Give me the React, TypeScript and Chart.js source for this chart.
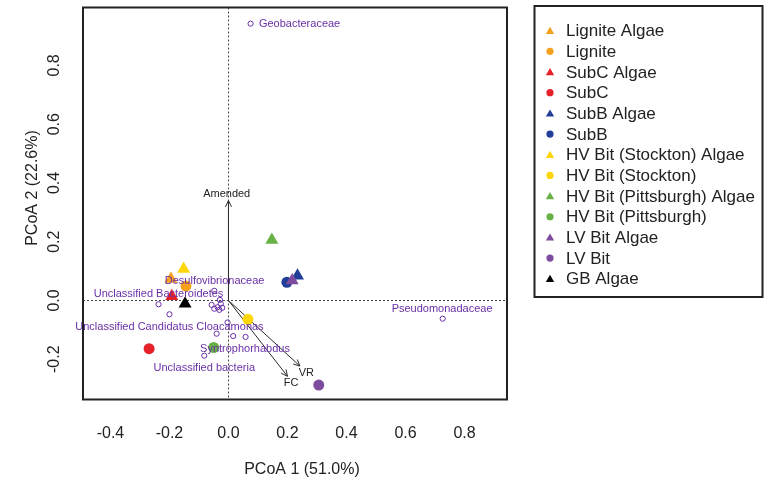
import React, { useEffect, useRef } from 'react';
import { Chart, registerables } from 'chart.js';

Chart.register(...registerables);

// ---- axis ranges & ticks ----
const xMin = -0.493;
const xMax = 0.944;
const yMin = -0.337;
const yMax = 0.997;
const xTicks = [-0.4, -0.2, 0.0, 0.2, 0.4, 0.6, 0.8];
const yTicks = [-0.2, 0.0, 0.2, 0.4, 0.6, 0.8];
const xTitle = 'PCoA 1 (51.0%)';
const yTitle = 'PCoA 2 (22.6%)';

// ---- samples ----
const sampleNames = [
  'Lignite Algae', 'Lignite', 'SubC Algae', 'SubC', 'SubB Algae', 'SubB',
  'HV Bit (Stockton) Algae', 'HV Bit (Stockton)', 'HV Bit (Pittsburgh) Algae',
  'HV Bit (Pittsburgh)', 'LV Bit Algae', 'LV Bit', 'GB Algae',
];
const sampleX = [-0.195, -0.144, -0.192, -0.269, 0.234, 0.198, -0.152, 0.066, 0.147, -0.050, 0.216, 0.306, -0.147];
const sampleY = [0.073, 0.049, 0.014, -0.164, 0.084, 0.062, 0.107, -0.064, 0.206, -0.160, 0.068, -0.288, -0.011];
const sampleShapes = ['triangle', 'circle', 'triangle', 'circle', 'triangle', 'circle', 'triangle', 'circle', 'triangle', 'circle', 'triangle', 'circle', 'triangle'];
const sampleColors = [
  '#F6A11E', '#F6A11E', '#E6212A', '#E6212A', '#213F98', '#213F98',
  '#FFD60A', '#FFD60A', '#68B245', '#68B245', '#7D4C9F', '#7D4C9F', '#000000',
];

// ---- taxa (open circles) ----
const taxaX = [0.075, 0.726, -0.048, -0.029, -0.237, -0.200, -0.057, -0.048, -0.037, -0.026, -0.021, -0.031, -0.003, -0.040, 0.016, 0.058, -0.082];
const taxaY = [0.942, -0.062, 0.033, 0.002, -0.013, -0.047, -0.015, -0.028, -0.023, -0.011, -0.025, -0.032, -0.075, -0.113, -0.121, -0.124, -0.188];

// ---- taxa labels ----
const taxonLabels = [
  'Geobacteraceae', 'Desulfovibrionaceae', 'Unclassified Bacteroidetes', 'Pseudomonadaceae',
  'Unclassified Candidatus Cloacamonas', 'Syntrophorhabdus', 'Unclassified bacteria',
];
const taxonLabelX = [0.241, -0.047, -0.237, 0.724, -0.200, 0.056, -0.082];
const taxonLabelY = [0.940, 0.065, 0.023, -0.028, -0.090, -0.166, -0.229];

// ---- environmental vectors ----
const vectorNames = ['Amended', 'FC', 'VR'];
const vectorX = [0.0, 0.200, 0.242];
const vectorY = [0.340, -0.258, -0.223];
const vectorLabelX = [-0.006, 0.212, 0.264];
const vectorLabelY = [0.363, -0.282, -0.248];

const FONT = "'Liberation Sans', Arial, sans-serif";
const TEXT_PURPLE = '#6A2FA6';
const DARK = '#222222';

function drawMarker(ctx: CanvasRenderingContext2D, shape: string, x: number, y: number, r: number, color: string) {
  ctx.fillStyle = color;
  ctx.beginPath();
  if (shape === 'triangle') {
    let rad = 0;
    ctx.moveTo(x + Math.sin(rad) * r, y - Math.cos(rad) * r);
    rad += (2 * Math.PI) / 3;
    ctx.lineTo(x + Math.sin(rad) * r, y - Math.cos(rad) * r);
    rad += (2 * Math.PI) / 3;
    ctx.lineTo(x + Math.sin(rad) * r, y - Math.cos(rad) * r);
    ctx.closePath();
  } else {
    ctx.arc(x, y, r, 0, Math.PI * 2);
  }
  ctx.fill();
}

const overlayPlugin = {
  id: 'overlay',
  beforeDatasetsDraw(chart: any) {
    const { ctx, chartArea: a, scales } = chart;
    const xs = scales.x;
    const ys = scales.y;
    ctx.save();
    // dotted zero lines
    ctx.strokeStyle = '#444';
    ctx.lineWidth = 1;
    ctx.setLineDash([2, 2]);
    const x0 = Math.round(xs.getPixelForValue(0)) + 0.5;
    const y0 = Math.round(ys.getPixelForValue(0)) + 0.5;
    ctx.beginPath();
    ctx.moveTo(x0, a.top);
    ctx.lineTo(x0, a.bottom);
    ctx.moveTo(a.left, y0);
    ctx.lineTo(a.right, y0);
    ctx.stroke();
    ctx.setLineDash([]);
    // arrows
    ctx.strokeStyle = '#2a2a2a';
    ctx.lineWidth = 1;
    const ox = xs.getPixelForValue(0);
    const oy = ys.getPixelForValue(0);
    for (let i = 0; i < vectorNames.length; i++) {
      const tx = xs.getPixelForValue(vectorX[i]);
      const ty = ys.getPixelForValue(vectorY[i]);
      const ang = Math.atan2(ty - oy, tx - ox);
      const head = 7;
      const spread = 0.45;
      ctx.beginPath();
      ctx.moveTo(ox, oy);
      ctx.lineTo(tx, ty);
      ctx.moveTo(tx - head * Math.cos(ang - spread), ty - head * Math.sin(ang - spread));
      ctx.lineTo(tx, ty);
      ctx.lineTo(tx - head * Math.cos(ang + spread), ty - head * Math.sin(ang + spread));
      ctx.stroke();
    }
    ctx.restore();
  },
  afterDatasetsDraw(chart: any) {
    const { ctx, chartArea: a, scales } = chart;
    const xs = scales.x;
    const ys = scales.y;
    ctx.save();
    // taxon labels
    ctx.font = `11px ${FONT}`;
    ctx.fillStyle = TEXT_PURPLE;
    ctx.textAlign = 'center';
    ctx.textBaseline = 'middle';
    for (let i = 0; i < taxonLabels.length; i++) {
      ctx.fillText(taxonLabels[i], xs.getPixelForValue(taxonLabelX[i]), ys.getPixelForValue(taxonLabelY[i]));
    }
    // vector labels
    ctx.fillStyle = DARK;
    for (let i = 0; i < vectorNames.length; i++) {
      ctx.fillText(vectorNames[i], xs.getPixelForValue(vectorLabelX[i]), ys.getPixelForValue(vectorLabelY[i]));
    }
    // plot box
    ctx.strokeStyle = DARK;
    ctx.lineWidth = 2;
    ctx.strokeRect(a.left, a.top, a.right - a.left, a.bottom - a.top);
    // x tick labels
    ctx.font = `16px ${FONT}`;
    ctx.fillStyle = DARK;
    ctx.textAlign = 'center';
    ctx.textBaseline = 'middle';
    for (const v of xTicks) {
      ctx.fillText(v.toFixed(1), xs.getPixelForValue(v), a.bottom + 34);
    }
    // y tick labels (rotated)
    for (const v of yTicks) {
      ctx.save();
      ctx.translate(a.left - 28, ys.getPixelForValue(v));
      ctx.rotate(-Math.PI / 2);
      ctx.fillText(v.toFixed(1), 0, 0);
      ctx.restore();
    }
    // titles
    ctx.font = `16px ${FONT}`;
    ctx.fillText(xTitle, 302, 470);
    ctx.save();
    ctx.translate(33, 188);
    ctx.rotate(-Math.PI / 2);
    ctx.fillText(yTitle, 0, 0);
    ctx.restore();
    // legend
    const lx = 534.5, ly = 6, lw = 228, lh = 291;
    ctx.lineWidth = 2;
    ctx.strokeStyle = DARK;
    ctx.strokeRect(lx, ly, lw, lh);
    ctx.font = `17px ${FONT}`;
    ctx.textAlign = 'left';
    ctx.textBaseline = 'middle';
    for (let i = 0; i < sampleNames.length; i++) {
      const ry = 30.7 + i * 20.67;
      const shape = sampleShapes[i];
      drawMarker(ctx, shape, 550, shape === 'triangle' ? ry + 0.8 : ry, shape === 'triangle' ? 4.8 : 3.6, sampleColors[i]);
      ctx.fillStyle = DARK;
      ctx.fillText(sampleNames[i], 566, ry + 1);
    }
    ctx.restore();
  },
};

export default function App() {
  const ref = useRef<HTMLCanvasElement | null>(null);
  useEffect(() => {
    document.body.style.margin = '0';
    const canvas = ref.current;
    if (!canvas) return;
    const datasets: any[] = [
      {
        label: 'taxa',
        data: taxaX.map((x, i) => ({ x, y: taxaY[i] })),
        pointStyle: 'circle',
        pointRadius: 2.6,
        pointBackgroundColor: 'rgba(255,255,255,0)',
        pointBorderColor: TEXT_PURPLE,
        pointBorderWidth: 1,
        showLine: false,
        order: 1,
      },
    ];
    sampleNames.forEach((name, i) => {
      datasets.push({
        label: name,
        data: [{ x: sampleX[i], y: sampleY[i] }],
        pointStyle: sampleShapes[i],
        pointRadius: sampleShapes[i] === 'triangle' ? 7.5 : 5.5,
        pointBackgroundColor: sampleColors[i],
        pointBorderColor: sampleColors[i],
        pointBorderWidth: 0,
        showLine: false,
        order: -i,
      });
    });
    const chart = new Chart(canvas, {
      type: 'scatter',
      data: { datasets },
      options: {
        responsive: false,
        animation: false,
        devicePixelRatio: 1,
        layout: { padding: { left: 83, top: 6, right: 767 - 507, bottom: 488 - 399.5 } },
        plugins: { legend: { display: false }, tooltip: { enabled: false } },
        scales: {
          x: { type: 'linear', display: false, min: xMin, max: xMax },
          y: { type: 'linear', display: false, min: yMin, max: yMax },
        },
        elements: { point: { hoverRadius: 0 } },
      },
      plugins: [overlayPlugin],
    } as any);
    return () => chart.destroy();
  }, []);
  return <canvas ref={ref} width={767} height={488} style={{ display: 'block' }} />;
}
